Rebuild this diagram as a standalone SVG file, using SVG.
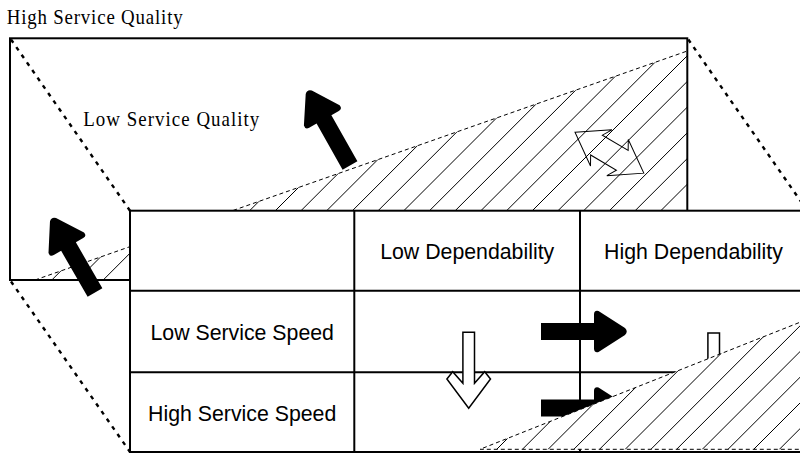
<svg xmlns="http://www.w3.org/2000/svg" width="800" height="453" viewBox="0 0 800 453">
<style>
.frame{fill:#fff;stroke:#000;stroke-width:2}
.grid{fill:none;stroke:#000;stroke-width:2}
.dot{fill:none;stroke:#000;stroke-width:2.4;stroke-dasharray:4 5.3}
.dash{fill:none;stroke:#000;stroke-width:1;stroke-dasharray:4 3}
.hatch{fill:none;stroke:#000;stroke-width:1}
.serif{font-family:"Liberation Serif","Times New Roman",serif;font-size:21px;fill:#000}
.sans{font-family:"Liberation Sans",Arial,sans-serif;font-size:21.3px;fill:#000;text-anchor:middle}
.black{fill:#000;stroke:none}
.open{fill:#fff;stroke:#000;stroke-width:1.5;stroke-linejoin:miter}
.open2{fill:none;stroke:#000;stroke-width:1}
</style>
<defs>
<path id="blk" d="M0,-8.5 L53,-8.5 L53,-17 Q53,-21.5 57.5,-20.5 L84,-3.5 Q87.5,0 84,3.5 L57.5,20.5 Q53,21.5 53,17 L53,8.5 L0,8.5 Z"/>
<polygon id="opendown" points="-5.8,0 5.8,0 5.8,51 16,39.4 21.8,46.7 0,76 -21.8,46.7 -16,39.4 -5.8,51"/>
<clipPath id="clipBack"><polygon points="35,280 687.3,51 687.3,280"/></clipPath>
<clipPath id="clipFront"><polygon points="480,449.3 812,317.5 812,449.3"/></clipPath>
</defs>

<g id="back-face">
<rect class="frame" x="10" y="38.3" width="677.3" height="241.7"/>
<g id="back-hatch">
<path class="hatch" clip-path="url(#clipBack)" d="M31.8,300 L331.8,0 M57.5,300 L357.5,0 M83.2,300 L383.2,0 M108.9,300 L408.9,0 M134.6,300 L434.6,0 M160.3,300 L460.3,0 M186,300 L486,0 M211.7,300 L511.7,0 M237.4,300 L537.4,0 M263.1,300 L563.1,0 M288.8,300 L588.8,0 M314.5,300 L614.5,0 M340.2,300 L640.2,0 M365.9,300 L665.9,0 M391.6,300 L691.6,0 M417.3,300 L717.3,0 M443,300 L743,0 M468.7,300 L768.7,0 M494.4,300 L794.4,0 M520.1,300 L820.1,0 M545.8,300 L845.8,0 M571.5,300 L871.5,0 M597.2,300 L897.2,0 M622.9,300 L922.9,0 M648.6,300 L948.6,0"/>
<line class="dash" x1="35" y1="280" x2="687.3" y2="51"/>
</g>
<text id="label-high-quality" class="serif" transform="translate(6.7,24) scale(0.9,1)" letter-spacing="0.9">High Service Quality</text>
<text id="label-low-quality" class="serif" transform="translate(83.3,126) scale(0.9,1)" letter-spacing="1.15">Low Service Quality</text>
</g>

<g id="connectors">
<line class="dot" x1="11" y1="39.5" x2="130" y2="210.7"/>
<line class="dot" x1="688.3" y1="39.5" x2="807.3" y2="210.7"/>
<line class="dot" x1="11" y1="281.5" x2="130" y2="452"/>
</g>

<g id="arrow-double">
<polygon class="open2" transform="translate(575,132.3) rotate(30.7)" points="0,0 30.5,-21 25,-11.5 55,-11.5 49.5,-21 80,0 49.5,21 55,11.5 25,11.5 30.5,21"/>
</g>
<g id="arrow-up-back">
<use href="#blk" class="black" transform="translate(350,165.5) rotate(-119.4)"/>
</g>

<g id="front-table">
<rect class="frame" x="130" y="210.7" width="677.3" height="241.3"/>
<line class="grid" x1="130" y1="290.7" x2="807.3" y2="290.7"/>
<line class="grid" x1="130" y1="372.3" x2="807.3" y2="372.3"/>
<line class="grid" x1="354.3" y1="210.7" x2="354.3" y2="452"/>
<line class="grid" x1="580" y1="210.7" x2="580" y2="452"/>
<text class="sans" x="467.2" y="259.3">Low Dependability</text>
<text class="sans" x="693.5" y="259.3">High Dependability</text>
<text class="sans" x="242.2" y="340">Low Service Speed</text>
<text class="sans" x="242.2" y="420.7">High Service Speed</text>
</g>

<g id="arrow-up-front">
<use href="#blk" class="black" transform="translate(95,292.5) rotate(-120)"/>
</g>
<g id="arrow-right-1">
<use href="#blk" class="black" transform="translate(541,331.5)"/>
</g>
<g id="arrow-right-2">
<use href="#blk" class="black" transform="translate(541,408)"/>
</g>
<g id="arrow-down-1">
<use href="#opendown" class="open" transform="translate(468.7,332.3)"/>
</g>
<g id="arrow-down-2">
<use href="#opendown" class="open" transform="translate(713.7,333)"/>
</g>

<g id="front-hatch">
<polygon points="480,449.3 812,317.5 812,449.3" fill="#fff" stroke="none"/>
<path class="hatch" clip-path="url(#clipFront)" d="M486,460 L646,300 M511.7,460 L671.7,300 M537.4,460 L697.4,300 M563.1,460 L723.1,300 M588.8,460 L748.8,300 M614.5,460 L774.5,300 M640.2,460 L800.2,300 M665.9,460 L825.9,300 M691.6,460 L851.6,300 M717.3,460 L877.3,300 M743,460 L903,300 M768.7,460 L928.7,300 M794.4,460 L954.4,300"/>
<polyline class="dash" points="812,317.5 480,449.3 812,449.3"/>
</g>
</svg>
